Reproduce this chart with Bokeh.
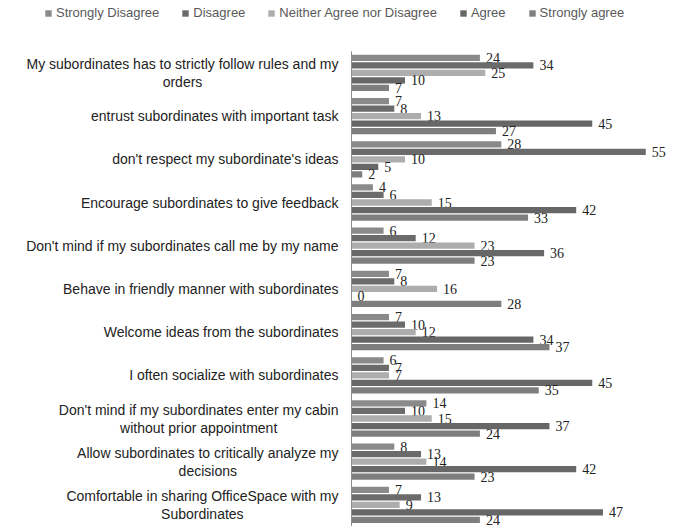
from bokeh.plotting import figure
from bokeh.models import ColumnDataSource, Range1d, Legend, LegendItem
from bokeh.transform import dodge
from bokeh.embed import file_html
from bokeh.resources import INLINE
from bokeh.core.properties import value

categories = [
    "My subordinates has to strictly follow rules and my\norders",
    "entrust subordinates with important task",
    "don't respect my subordinate's ideas",
    "Encourage subordinates to give feedback",
    "Don't mind if my subordinates call me by my name",
    "Behave in friendly manner with subordinates",
    "Welcome ideas from the subordinates",
    "I often socialize with subordinates",
    "Don't mind if my subordinates enter my cabin\nwithout prior appointment",
    "Allow subordinates to critically analyze my\ndecisions",
    "Comfortable in sharing OfficeSpace with my\nSubordinates",
]
series = ["Strongly Disagree", "Disagree", "Neither Agree nor Disagree", "Agree", "Strongly agree"]
strongly_disagree = [24, 7, 28, 4, 6, 7, 7, 6, 14, 8, 7]
disagree = [34, 8, 55, 6, 12, 8, 10, 7, 10, 13, 13]
neither = [25, 13, 10, 15, 23, 16, 12, 7, 15, 14, 9]
agree = [10, 45, 5, 42, 36, 0, 34, 45, 37, 42, 47]
strongly_agree = [7, 27, 2, 33, 23, 28, 37, 35, 24, 23, 24]
colors = ["#8a8a8a", "#6b6b6b", "#adadad", "#676767", "#7e7e7e"]

values = [strongly_disagree, disagree, neither, agree, strongly_agree]

# ---- layout constants (pixels) ----
W, H = 674, 526
AXIS_X = 351          # screen x of the value axis
PX_PER_UNIT = 5.35    # horizontal scale
GROUP_PX = 43.2       # height of one category band
LABEL_GAP = 13
LABEL_SIZE = 14

# Arial / Liberation Sans advance widths (1/1000 em) for centring wrapped lines
_AW = dict(zip(" !'abcdefghijklmnopqrstuvwxyz",
               [278, 278, 191, 556, 556, 500, 556, 556, 278, 556, 556, 222, 222, 500, 222,
                833, 556, 556, 556, 556, 333, 500, 278, 556, 500, 722, 500, 500, 500]))
_AW.update(dict(zip("ABCDEFGHIJKLMNOPQRSTUVWXYZ",
                    [667, 667, 722, 722, 667, 611, 778, 722, 278, 500, 667, 556, 833, 722,
                     778, 667, 778, 722, 667, 611, 722, 667, 944, 667, 667, 611])))


def text_w(s, size):
    return sum(_AW.get(c, 556) for c in s) * size / 1000.0


n = len(categories)
pos = [n - 1 - i for i in range(n)]  # first category at the top

p = figure(
    width=W, height=H,
    x_range=Range1d(-AXIS_X / PX_PER_UNIT, (W - AXIS_X) / PX_PER_UNIT),
    y_range=Range1d(-0.5, -0.5 + H / GROUP_PX),
    output_backend="svg", toolbar_location=None,
    min_border_left=0, min_border_right=0, min_border_top=0, min_border_bottom=0,
)

step = 0.174
items = []
for j, (name, vals, col) in enumerate(zip(series, values, colors)):
    src = ColumnDataSource(dict(pos=pos, v=vals, lab=[str(x) for x in vals]))
    off = (2 - j) * step
    r = p.hbar(y=dodge("pos", off), right="v", left=0, height=0.145,
               source=src, fill_color=col, line_color=None)
    p.text(x="v", y=dodge("pos", off), text="lab", source=src,
           x_offset=6, text_baseline="middle", text_align="left",
           text_font=value("Liberation Serif"), text_font_size="14px", text_color="#222222")
    items.append(LegendItem(label=name, renderers=[r]))

# axis line
p.segment(x0=[0], x1=[0], y0=[min(pos) - 0.5], y1=[max(pos) + 0.5],
          line_color="#8c8c8c", line_width=1)

# category labels (right aligned, wrapped lines centred under the first line)
r_y, r_t, r_dy = [], [], []
c_y, c_t, c_dx, c_dy = [], [], [], []
for cat, yy in zip(categories, pos):
    lines = cat.split("\n")
    if len(lines) == 1:
        r_y.append(yy); r_t.append(lines[0]); r_dy.append(0)
    else:
        r_y.append(yy); r_t.append(lines[0]); r_dy.append(-9)
        c_y.append(yy); c_t.append(lines[1]); c_dy.append(9)
        c_dx.append(-LABEL_GAP - text_w(lines[0], LABEL_SIZE) / 2)

rsrc = ColumnDataSource(dict(x=[0] * len(r_y), y=r_y, t=r_t, dy=r_dy))
csrc = ColumnDataSource(dict(x=[0] * len(c_y), y=c_y, t=c_t, dx=c_dx, dy=c_dy))
p.text(x="x", y="y", text="t", x_offset=-LABEL_GAP, y_offset="dy", source=rsrc,
       text_align="right", text_baseline="middle",
       text_font=value("Liberation Sans"), text_font_size=f"{LABEL_SIZE}px", text_color="#222222")
p.text(x="x", y="y", text="t", x_offset="dx", y_offset="dy", source=csrc,
       text_align="center", text_baseline="middle",
       text_font=value("Liberation Sans"), text_font_size=f"{LABEL_SIZE}px", text_color="#222222")

legend = Legend(items=items, orientation="horizontal", location=(44, H - 20),
                glyph_width=8, glyph_height=8, label_standoff=4, spacing=22,
                label_height=12, padding=0, margin=0, border_line_color=None,
                background_fill_alpha=0,
                label_text_font_size="13px", label_text_color="#595959",
                label_text_font="Liberation Sans")
p.add_layout(legend)

p.axis.visible = False
p.xgrid.visible = False
p.ygrid.visible = False
p.outline_line_color = None

open("out.html", "w").write(file_html(p, INLINE))
